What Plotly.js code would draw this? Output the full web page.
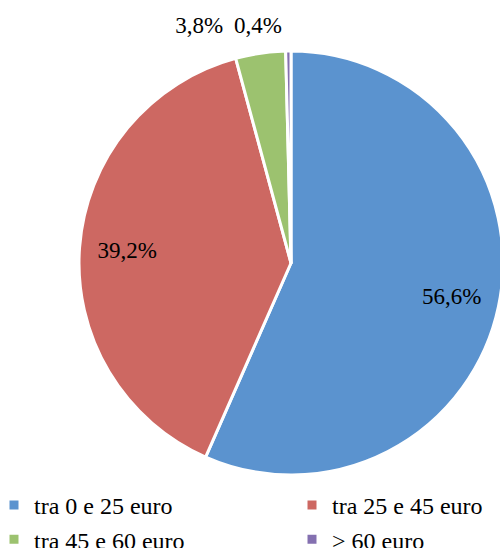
<!DOCTYPE html>
<html>
<head>
<meta charset="utf-8">
<script src="https://cdn.plot.ly/plotly-3.0.1.min.js"></script>
<style>
html, body { margin: 0; padding: 0; overflow: hidden; background: #fff; width: 500px; height: 548px; }
#chart { width: 1200px; height: 548px; }
</style>
</head>
<body>
<div id="chart"></div>
<script>
const categories = ["tra 0 e 25 euro", "tra 25 e 45 euro", "tra 45 e 60 euro", "> 60 euro"];
const values = [56.6, 39.2, 3.8, 0.4];
const colors = ["#5B93CF", "#CD6862", "#9CC26F", "#8470B0"];

const serif = "Liberation Serif";
const clear = ["rgba(0,0,0,0)", "rgba(0,0,0,0)", "rgba(0,0,0,0)", "rgba(0,0,0,0)"];

// plot area: 600 x 548 px starting at page origin
const PW = 600, PH = 548;
function dom(cx, cy, r) {
  return { x: [(cx - r) / PW, (cx + r) / PW], y: [1 - (cy + r) / PH, 1 - (cy - r) / PH] };
}
const CX = 291, CY = 263, R = 212;

const base = { type: "pie", labels: categories, values: values, sort: false, direction: "clockwise" };

// visible slices
const pieTrace = Object.assign({}, base, {
  rotation: 0,
  marker: { colors: colors, line: { color: "#ffffff", width: 3 } },
  textinfo: "none",
  hoverinfo: "label+percent",
  domain: dom(CX, CY, R)
});

// transparent ring carrying the two inside labels near the rim
const ringLabels = Object.assign({}, base, {
  rotation: 0, hole: 0.55, showlegend: false,
  marker: { colors: clear, line: { width: 0 } },
  texttemplate: ["%{percent:.1%}", "%{percent:.1%}", "", ""],
  textposition: ["inside", "inside", "none", "none"],
  insidetextorientation: "horizontal",
  textfont: { family: serif, size: 23, color: "#000000" },
  hoverinfo: "skip",
  domain: dom(CX, CY, R)
});

// transparent pies carrying the outside labels of the two small slices
const greenLabel = Object.assign({}, base, {
  rotation: -7, showlegend: false,
  marker: { colors: clear, line: { width: 0 } },
  texttemplate: ["", "", "%{percent:.1%}", ""],
  textposition: ["none", "none", "outside", "none"],
  outsidetextfont: { family: serif, size: 23, color: "#000000" },
  hoverinfo: "skip",
  domain: dom(CX, CY, 234)
});

const purpleLabel = Object.assign({}, base, {
  rotation: 0, showlegend: false,
  marker: { colors: clear, line: { width: 0 } },
  texttemplate: ["", "", "", "%{percent:.1%}"],
  textposition: ["none", "none", "none", "outside"],
  outsidetextfont: { family: serif, size: 23, color: "#000000" },
  hoverinfo: "skip",
  domain: dom(CX, CY, 225)
});

const layout = {
  width: 1200,
  height: 548,
  separators: ", ",
  margin: { l: 0, r: 600, t: 0, b: 0, autoexpand: false },
  paper_bgcolor: "#ffffff",
  font: { family: serif },
  showlegend: true,
  legend: {
    orientation: "h",
    x: -6 / PW, xanchor: "left",
    y: 1 - 483 / PH, yanchor: "top",
    entrywidth: 253,
    entrywidthmode: "pixels",
    font: { family: serif, size: 24, color: "#000000" },
    traceorder: "normal"
  }
};

Plotly.newPlot("chart", [pieTrace, ringLabels, greenLabel, purpleLabel], layout, { displayModeBar: false, staticPlot: true });
</script>
</body>
</html>
